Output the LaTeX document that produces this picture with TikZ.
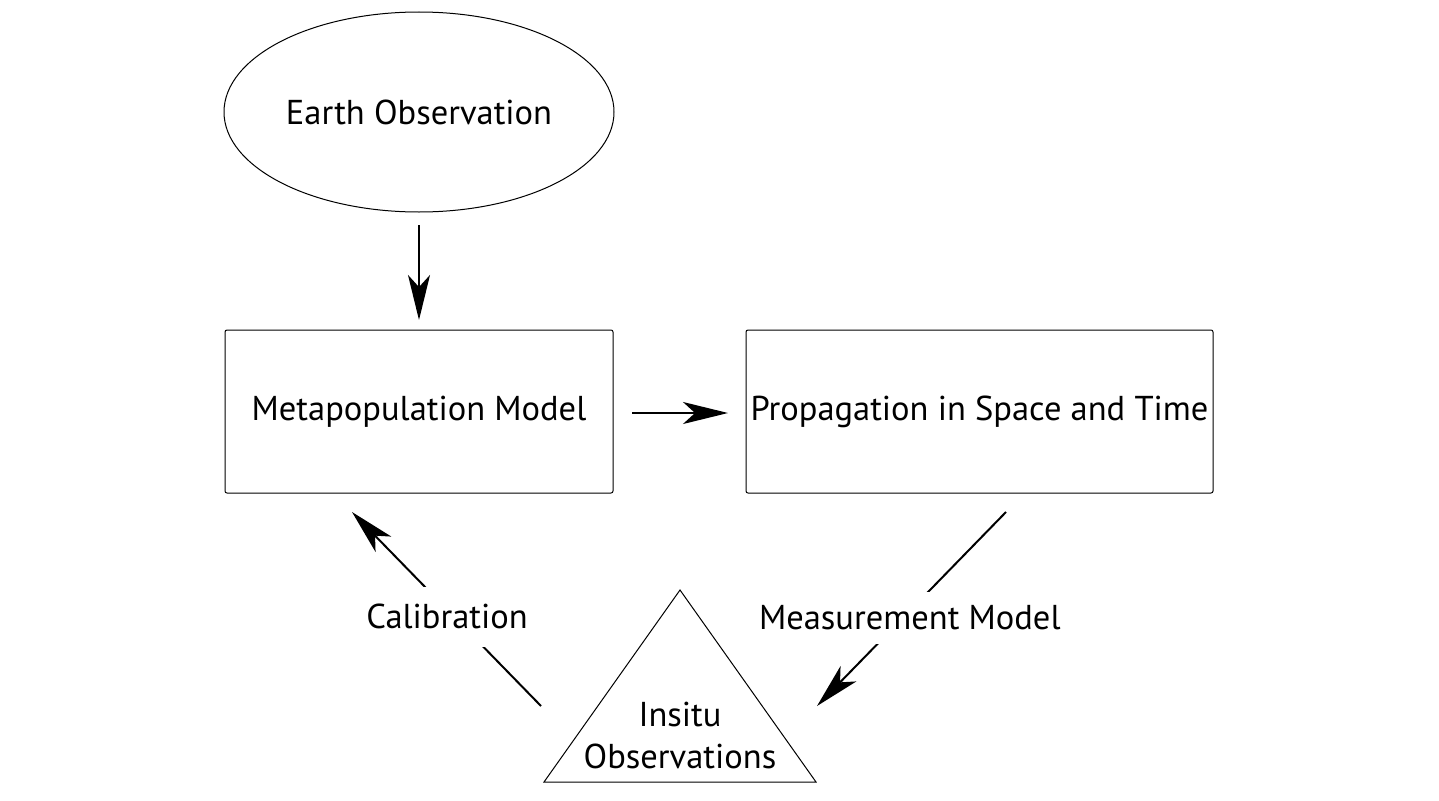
\documentclass[tikz,border=0pt]{standalone}
\usepackage{fontspec}
\setmainfont{PT Sans}
\usepackage{tikz}
\usetikzlibrary{arrows.meta,shapes.geometric}

\tikzset{
  block/.style={draw,line width=1pt,rounded corners=2pt,minimum width=388pt,minimum height=163pt},
  cloud/.style={draw,line width=1pt,ellipse,minimum width=390pt,minimum height=200pt},
  conn/.style={line width=2pt,-{Stealth[length=45pt,width=22pt,inset=12pt]}},
  lab/.style={fill=white,inner xsep=2pt,inner ysep=0pt,minimum height=56pt},
  txt/.style={font=\fontsize{34.5}{42}\selectfont}
}

\begin{document}
\begin{tikzpicture}[x=1pt,y=-1pt,txt]
\useasboundingbox (0,0) rectangle (1439,800);

\node[cloud] (earth) at (419,112) {Earth Observation};
\node[block] (meta) at (419,411.5) {Metapopulation Model};
\node[block,minimum width=467pt] (prop) at (979.5,411.5) {Propagation in Space and Time};

% insitu triangle
\draw[line width=1pt] (680,590) -- (816,782) -- (544,782) -- cycle;
\node[align=center,inner sep=0pt] (insitu) at (680,735) {Insitu\\Observations};

\coordinate (eA) at (419,225);
\coordinate (eB) at (419,320);
\coordinate (mA) at (632,413);
\coordinate (mB) at (728,413);
\coordinate (cA) at (541,706);
\coordinate (cB) at (352,512);
\coordinate (pA) at (1006,512);
\coordinate (pB) at (817,706);

\draw[conn] (eA) -- (eB);
\draw[conn] (mA) -- (mB);
\draw[conn] (cA) -- node[lab,pos=0.46,xshift=-7pt,minimum height=60pt]{Calibration} (cB);
\draw[conn] (pA) -- node[lab,pos=0.546,xshift=7pt,minimum height=52pt]{Measurement Model} (pB);
\end{tikzpicture}
\end{document}
